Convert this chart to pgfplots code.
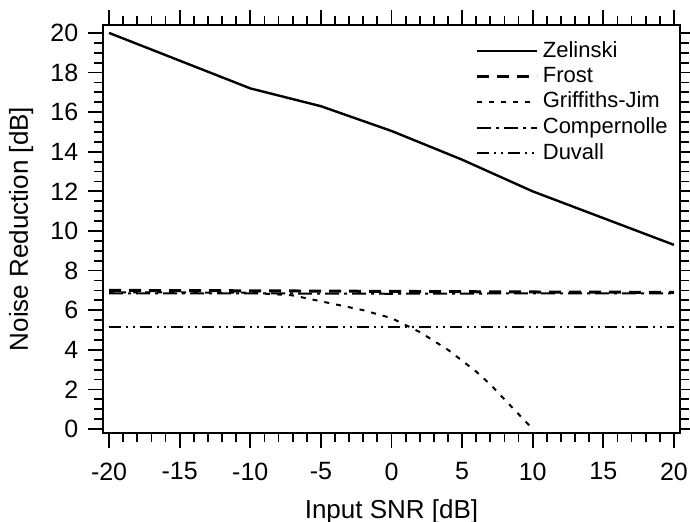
\documentclass[border=0pt]{standalone}
\usepackage{fontspec}
\setmainfont{Liberation Sans}
\usepackage{pgfplots}
\pgfplotsset{compat=1.18}
\begin{document}
\fontsize{12.5}{15}\selectfont
\begin{tikzpicture}
\begin{axis}[
  scale only axis,
  width=288.5pt, height=204pt,
  xmin=-20.43, xmax=20.43,
  ymin=-0.2, ymax=20.4,
  xtick={-20,-15,...,20},
  ytick={0,2,...,20},
  minor x tick num=4,
  minor y tick num=3,
  tick align=outside,
  major tick length=7.5pt,
  minor tick length=4.5pt,
  every tick/.style={black, line width=0.9pt},
  axis line style={line width=1pt},
  /pgf/number format/assume math mode=true,
  ticklabel style={font=\fontsize{12.5}{15}\selectfont},
  xticklabel style={yshift=-3pt},
  yticklabel style={xshift=-0.5pt},
  label style={font=\fontsize{13}{15}\selectfont},
  xlabel={Input SNR [dB]},
  ylabel={Noise Reduction [dB]},
  xlabel style={yshift=-1pt},
  ylabel style={yshift=0pt},
  legend style={draw=none, fill=none, at={(1,1)}, anchor=north east,
    xshift=-1pt, yshift=-4pt, font=\fontsize{11}{13}\selectfont,
    row sep=-1pt, cells={anchor=west}},
  legend image code/.code={\draw[#1] (0pt,0pt) -- (30pt,0pt);},
  legend cell align=left,
]
\addplot[black, line width=1.2pt] coordinates {
 (-20,20.0) (-15,18.6) (-10,17.2) (-5,16.3) (0,15.05) (5,13.6) (10,12.0) (15,10.65) (20,9.3)};
\addlegendentry{Zelinski}
\addplot[black, line width=1.5pt, dash pattern=on 6pt off 4pt] coordinates {
 (-20,7.0) (-10,6.98) (0,6.95) (10,6.92) (20,6.9)};
\addlegendentry{Frost}
\addplot[black, line width=1pt, dash pattern=on 2.5pt off 3.5pt] coordinates {
 (-20,6.9) (-15,6.9) (-10,6.88) (-7,6.75) (-5,6.45) (-2,6.0) (0,5.6) (2,4.9) (4,4.0) (6,2.9) (7,2.25) (8,1.5) (9,0.75) (10,0.0)};
\addlegendentry{Griffiths-Jim}
\addplot[black, line width=1pt, dash pattern=on 7pt off 2.5pt on 1.5pt off 2.5pt] coordinates {
 (-20,6.85) (-10,6.85) (0,6.83) (10,6.85) (20,6.85)};
\addlegendentry{Compernolle}
\addplot[black, line width=1.2pt, dash pattern=on 6pt off 2.5pt on 1pt off 2.5pt on 1pt off 2.5pt] coordinates {
 (-20,5.15) (-10,5.15) (0,5.15) (10,5.15) (20,5.15)};
\addlegendentry{Duvall}
\end{axis}
\pgfresetboundingbox
\path ([shift={(-51.5pt,-44pt)}]current axis.south west) rectangle ([shift={(5pt,12.5pt)}]current axis.north east);
\end{tikzpicture}
\end{document}
